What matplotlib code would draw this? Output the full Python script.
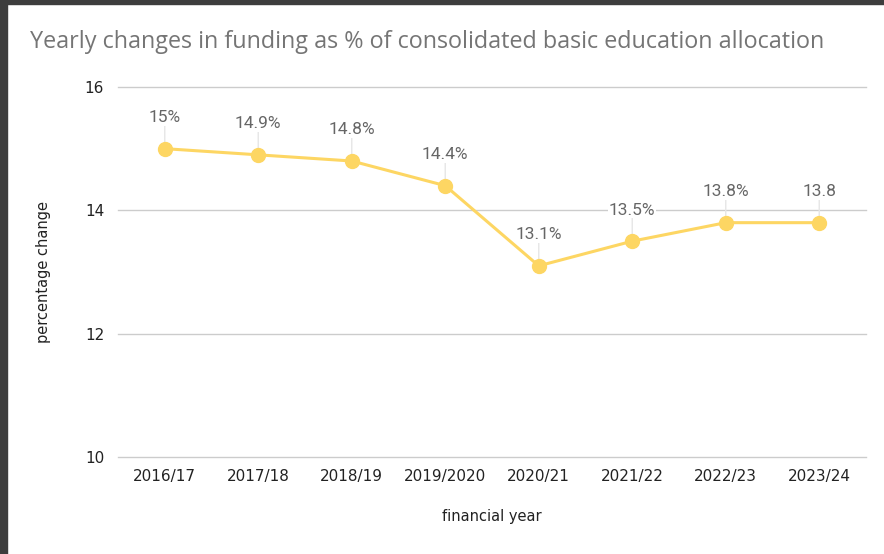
import matplotlib.pyplot as plt
from matplotlib.patches import Rectangle

years = ["2016/17", "2017/18", "2018/19", "2019/2020", "2020/21", "2021/22", "2022/23", "2023/24"]
values = [15.0, 14.9, 14.8, 14.4, 13.1, 13.5, 13.8, 13.8]
labels = ["15%", "14.9%", "14.8%", "14.4%", "13.1%", "13.5%", "13.8%", "13.8"]
y_ticks = [10, 12, 14, 16]

line_color = "#fdd663"

fig = plt.figure(figsize=(8.84, 5.54), dpi=100)
ax = fig.add_axes([118 / 884, 1 - 457 / 554, 748 / 884, 370 / 554])

# dark screenshot frame on the left and top
fig.patches.append(Rectangle((0, 0), 7 / 884, 1, transform=fig.transFigure,
                             color="#3d3d3d", zorder=10))
fig.patches.append(Rectangle((0, 1 - 4 / 554), 1, 4 / 554, transform=fig.transFigure,
                             color="#3d3d3d", zorder=10))

x = list(range(len(years)))
ax.plot(x, values, color=line_color, lw=2.2, marker="o", ms=10, zorder=3)

for xi, v, lab in zip(x, values, labels):
    ax.annotate(lab, (xi, v), xytext=(0, 17), textcoords="offset points",
                ha="center", va="bottom", fontsize=12.5, color="#666666",
                family="Roboto",
                bbox=dict(boxstyle="square,pad=0.05", fc="white", ec="none"))
    ax.annotate("", (xi, v), xytext=(0, 17), textcoords="offset points",
                arrowprops=dict(arrowstyle="-", color="#e6e6e6", lw=1,
                                shrinkA=0, shrinkB=4), zorder=2)

ax.set_xlim(-0.5, len(years) - 0.5)
ax.set_ylim(10, 16)
ax.set_yticks(y_ticks)
ax.set_xticks(x)
ax.set_xticklabels(years)
ax.grid(axis="y", color="#cccccc", lw=1)
for gl in ax.get_ygridlines():
    gl.set_clip_on(False)
ax.set_axisbelow(True)
for s in ax.spines.values():
    s.set_visible(False)
ax.tick_params(length=0, labelsize=11, colors="#222222", pad=10)
ax.tick_params(axis="x", pad=9)

ax.set_ylabel("percentage change", fontsize=10.5, color="#222222", labelpad=24)
ax.set_xlabel("financial year", fontsize=10.5, color="#222222", labelpad=18)

fig.text(30 / 884, 1 - 42 / 554, "Yearly changes in funding as % of consolidated basic education allocation",
         fontsize=16.8, color="#757575", family="Open Sans", va="center", ha="left")

fig.savefig("out.png", dpi=100)
